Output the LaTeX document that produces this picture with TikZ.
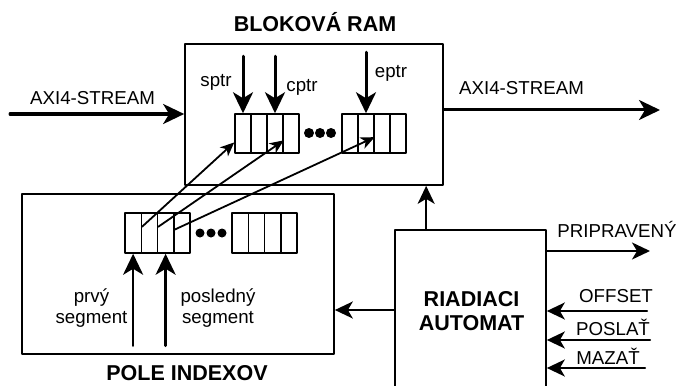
\documentclass[tikz,border=0pt]{standalone}
\usepackage{fontspec}
\setmainfont{Liberation Sans}
\usetikzlibrary{arrows.meta,calc}

\tikzset{
	blok/.style={draw, line width=1.7pt, inner sep=0pt},
	bunka/.style={draw, line width=1.5pt, minimum width=16pt, minimum height=39pt, inner sep=0pt},
	sig/.style={line width=2pt, -{Stealth[length=18pt,width=17pt,inset=5pt]}},
	hrubo/.style={line width=3pt, -{Stealth[length=21pt,width=20pt,inset=6pt]}},
	odkaz/.style={line width=1.8pt, -{Stealth[length=14pt,width=12pt,inset=4pt]}},
	popis/.style={font=\fontsize{18.7}{21}\selectfont, inner sep=0pt},
	nadpis/.style={font=\fontsize{21.5}{24}\selectfont\bfseries, inner sep=0pt, align=center}
}

\begin{document}
\begin{tikzpicture}[x=1pt, y=-1pt, line cap=round, line join=round]
		\useasboundingbox (0,0) rectangle (679,385);
		\clip (0,0) rectangle (679,385);
		
		% Blokova RAM with two groups of cells
		\node[blok, minimum width=258pt, minimum height=141pt] (ram) at (314,114.5) {};
		\node[nadpis, anchor=base] (ramtit) at (315,32) {BLOKOVÁ RAM};
		\foreach \i [evaluate=\i as \x using 227+16*\i] in {1,...,4} {
			\node[bunka] (ra\i) at (\x,133.5) {};
			\node[bunka] (rb\i) at (\x+107,133.5) {};
		}
		\foreach \x in {309,320,331} \fill (\x,133) circle (5pt);
		
		% Pointers into the RAM
		\draw[hrubo] ([yshift=57pt]ra1.north) -- (ra1.north);
		\draw[hrubo] ([yshift=57pt]ra3.north) -- (ra3.north);
		\draw[hrubo] ([yshift=61pt]rb2.north) -- (rb2.north);
		\node[popis, anchor=base] (sptr) at (216,87) {sptr};
		\node[popis, anchor=base] (cptr) at (302,92) {cptr};
		\node[popis, anchor=base] (eptr) at (391,78) {eptr};
		
		% Stream in and out
		\coordinate (axin) at (10,114);
		\coordinate (axout) at (660,110);
		\draw[hrubo] (axin) -- (axin -| ram.west);
		\draw[hrubo] (axout -| ram.east) -- (axout);
		\node[popis, anchor=base] (axintxt) at (92.5,105) {AXI4-STREAM};
		\node[popis, anchor=base] (axouttxt) at (521.5,95) {AXI4-STREAM};
		
		% Pole indexov
		\node[blok, minimum width=312pt, minimum height=160pt] (pole) at (178,274) {};
		\node[nadpis, anchor=base] (poletit) at (187,380) {POLE INDEXOV};
		\foreach \i [evaluate=\i as \x using 116.875+16.25*\i] in {1,...,4} {
			\node[bunka, minimum width=16.25pt, minimum height=40pt] (ia\i) at (\x,233) {};
			\node[bunka, minimum width=16.25pt, minimum height=40pt] (ib\i) at (\x+107,233) {};
		}
		\foreach \x in {200,211,222} \fill (\x,233) circle (4.5pt);
		
		% Index entries pointing to RAM cells
		\draw[odkaz] ($(ia1.north east)!0.35!(ia1.south east)$) -- ($(ra1.north west)!0.72!(ra1.south west)$);
		\draw[odkaz] ($(ia2.north east)!0.35!(ia2.south east)$) -- ($(ra3.north east)!0.67!(ra3.south east)$);
		\draw[odkaz] ($(ia3.north east)!0.42!(ia3.south east)$) -- ($(rb2.north east)!0.59!(rb2.south east)$);
		
		% First and last segment
		\draw[hrubo, line width=2.6pt] ([yshift=-92pt]ia1.south) -- (ia1.south);
		\draw[hrubo, line width=2.6pt] ([yshift=-92pt]ia3.south) -- (ia3.south);
		\node[popis, align=center] (prvy) at (91.5,308) {prvý\\segment};
		\node[popis, align=center] (posledny) at (218,308) {posledný\\segment};
		
		% Riadiaci automat
		\node[blok, minimum width=151pt, minimum height=160pt] (aut) at (470.5,310) {};
		\node[nadpis] (auttxt) at (471.5,311.3) {RIADIACI\\AUTOMAT};
		\draw[sig] ([xshift=32pt]aut.north west) -- ([xshift=32pt]aut.north west |- ram.south);
		\draw[sig] (aut.west) -- (aut.west -| pole.east);
		
		% Control signals
		\coordinate (ready) at (650,251);
		\coordinate (offset) at (647,311);
		\coordinate (poslat) at (650,340);
		\coordinate (mazat) at (645,368);
		\draw[sig] (ready -| aut.east) -- (ready);
		\draw[sig] (offset) -- (offset -| aut.east);
		\draw[sig] (poslat) -- (poslat -| aut.east);
		\draw[sig] (mazat) -- (mazat -| aut.east);
		\node[popis, anchor=base] (readytxt) at (617,237) {PRIPRAVENÝ};
		\node[popis, anchor=base] (offsettxt) at (616,302) {OFFSET};
		\node[popis, anchor=base] (poslattxt) at (613,335) {POSLAŤ};
		\node[popis, anchor=base] (mazattxt) at (608,364) {MAZAŤ};
		
	\end{tikzpicture}
\end{document}
